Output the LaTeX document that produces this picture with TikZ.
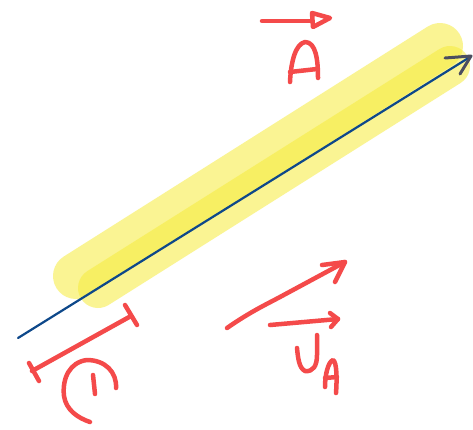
\documentclass[tikz,border=0pt]{standalone}
\begin{document}
\begin{tikzpicture}[x=1pt,y=-1pt,
  pen/.style={draw=penred,line width=4.5pt,line cap=round,line join=round},
  hl/.style={draw=hlyellow,opacity=0.55,line cap=round}]
\definecolor{penred}{RGB}{244,74,74}
\definecolor{hlyellow}{RGB}{246,236,60}
\definecolor{penblue}{RGB}{14,72,138}
\definecolor{pengray}{RGB}{75,78,95}
\useasboundingbox (0,0) rectangle (473,429);
\fill[white] (0,0) rectangle (473,429);
% highlighter
\draw[hl,line width=46pt] (76,276) -- (440,46);
\draw[hl,line width=40pt] (98,288) -- (450,66);
% blue vector
\draw[draw=penblue,line width=2.2pt,line cap=round] (18,338) -- (470,57);
\draw[draw=pengray,line width=3pt,line cap=round,line join=round] (445,58) -- (471,56) -- (460,74);
% A with arrow
\draw[pen] (262,21) -- (312,21);
\draw[pen] (312,13) -- (330,18) -- (313,27) -- cycle;
\draw[pen] (290,82) .. controls (291,60) and (296,44) .. (305,42) .. controls (316,42) and (318,60) .. (318,78);
\draw[pen] (290,72) -- (317,69);
% dimension line
\draw[pen] (32,371) -- (131,316);
\draw[pen] (125,305) -- (137,325);
\draw[pen] (29,363) -- (39,381);
% E-like letter
\draw[pen] (116,388) .. controls (117,372) and (105,360) .. (87,360) .. controls (70,362) and (62,378) .. (64,396) .. controls (66,410) and (78,418) .. (90,422);
\draw[pen] (93,375) -- (95,394);
% long arrow
\draw[pen] (227,328) .. controls (250,312) and (265,305) .. (280,297) -- (345,262);
\draw[pen] (322,265) -- (345,262) -- (335,282);
% short arrow
\draw[pen] (270,325) -- (338,319);
\draw[pen] (330,313) -- (338,319) -- (331,327);
% U
\draw[pen] (297,348) .. controls (298,358) and (299,368) .. (305,371) .. controls (313,372) and (317,366) .. (317,355) -- (317,335);
% subscript A
\draw[pen] (325,387) .. controls (325,375) and (328,362) .. (333,360) .. controls (337,362) and (337,380) .. (336,393);
\draw[pen] (325,378) -- (337,377);
\end{tikzpicture}
\end{document}
